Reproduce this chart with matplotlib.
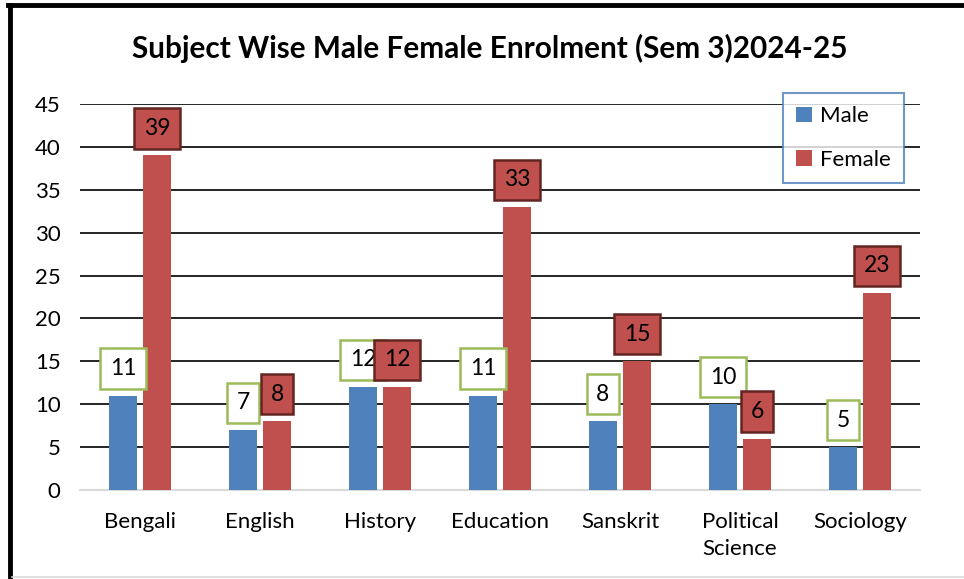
import matplotlib
matplotlib.use("Agg")
import matplotlib.pyplot as plt
from matplotlib.lines import Line2D
import numpy as np

categories = ["Bengali", "English", "History", "Education", "Sanskrit", "Political\nScience", "Sociology"]
male = [11, 7, 12, 11, 8, 10, 5]
female = [39, 8, 12, 33, 15, 6, 23]
yticks = [0, 5, 10, 15, 20, 25, 30, 35, 40, 45]

plt.rcParams['font.family'] = ['Lato', 'DejaVu Sans']

BLUE = "#4F81BD"
RED = "#C0504D"
FS = 16

fig = plt.figure(figsize=(9.64, 5.79), dpi=100)
ax = fig.add_axes([80/964, 1-490/579, 840/964, (490-104)/579])

x = np.arange(len(categories))
w = 0.233
off = 0.142
ax.bar(x - off, male, w, color=BLUE, label="Male", zorder=3)
ax.bar(x + off, female, w, color=RED, label="Female", zorder=3)

for xi, v in zip(x, male):
    ax.annotate(str(v), (xi - off, v), xytext=(0, 19.5), textcoords="offset points",
                ha="center", va="center", fontsize=16.5, color="black", zorder=5,
                bbox=dict(boxstyle="square,pad=0.42", fc="white", ec="#9BBB59", lw=1.8))
for xi, v in zip(x, female):
    ax.annotate(str(v), (xi + off, v), xytext=(0, 19.5), textcoords="offset points",
                ha="center", va="center", fontsize=16.5, color="black", zorder=6,
                bbox=dict(boxstyle="square,pad=0.42", fc=RED, ec="#632523", lw=1.8))

ax.set_xlim(-0.5, len(categories) - 0.5)
ax.set_ylim(0, 45)
ax.set_yticks(yticks)
ax.set_xticks(x)
ax.set_xticklabels(categories, fontsize=FS, linespacing=1.4)
ax.tick_params(axis='y', length=0, pad=14, labelsize=FS)
ax.tick_params(axis='x', length=0, pad=16)
for s in ["left", "right", "top"]:
    ax.spines[s].set_visible(False)
ax.spines["bottom"].set_color("#D9D9D9")
ax.spines["bottom"].set_linewidth(1.5)
for t in yticks[1:]:
    ax.axhline(t, color="black", lw=1.2, zorder=1)

leg = fig.legend(loc="upper left", bbox_to_anchor=(783/964, 1-93/579), fontsize=FS,
                 frameon=True, fancybox=False, handlelength=0.7, handleheight=0.7,
                 labelspacing=1.05, borderpad=0.6, handletextpad=0.35, borderaxespad=0)
leg.get_frame().set_edgecolor("#4A7EBB")
leg.get_frame().set_linewidth(1.5)

fig.text(490/964, 1-48/579, "Subject Wise Male Female Enrolment (Sem 3)2024-25",
         ha="center", va="center", fontsize=21.4, fontweight="bold")

# outer frame
fig.add_artist(Line2D([10/964, 10/964], [0, 1-5/579], color="black", lw=3.5, transform=fig.transFigure))
fig.add_artist(Line2D([8/964, 1], [1-5/579, 1-5/579], color="black", lw=3.5, transform=fig.transFigure))
fig.add_artist(Line2D([12/964, 1], [1-577/579, 1-577/579], color="#D9D9D9", lw=1.2, transform=fig.transFigure))

fig.savefig("out.png", dpi=100)
